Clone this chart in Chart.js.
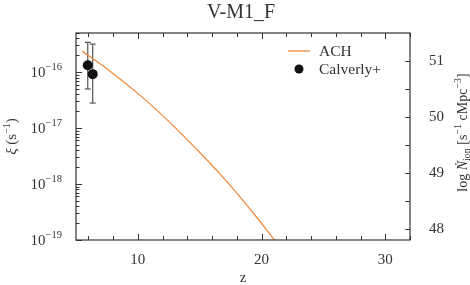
<!DOCTYPE html>
<html lang="en">
<head>
<meta charset="UTF-8">
<title>V-M1_F</title>
<style>
  html, body { margin: 0; padding: 0; background: #fff; }
  #wrap { width: 470px; height: 285px; }
</style>
</head>
<body>
<div id="wrap"><canvas id="chart" width="470" height="285"></canvas></div>
<script src="https://cdn.jsdelivr.net/npm/chart.js"></script>
<script>
// ACH model curve
const achZ  = [5.5, 7.7, 10.4, 12.6, 15.2, 16.6, 18.0, 19.3, 21.05];
const achXi = [2.37e-16, 1.06e-16, 3.5e-17, 1.25e-17, 3.3e-18, 1.55e-18, 6.9e-19, 3.1e-19, 1.0e-19];

// Calverly+ points with error bars
const calZ  = [5.95, 6.35];
const calXi = [1.33e-16, 9.2e-17];
const calHi = [3.4e-16, 3.16e-16];
const calLo = [5.0e-17, 2.8e-17];

// axes
const xLabelTicks = [10, 20, 30];
const xMinorTicks = [6, 8, 10, 12, 14, 16, 18, 20, 22, 24, 26, 28, 30, 32];
const yDecades = [-19, -18, -17, -16];
const y2LabelTicks = [48, 49, 50, 51];
const y2MinorTicks = [48, 48.5, 49, 49.5, 50, 50.5, 51];

const FONT = '"Liberation Serif", "DejaVu Serif", serif';
const INK = '#333';
const ORANGE = '#f28b3f';

function setFont(ctx, size, style) {
    ctx.font = (style || '') + ' ' + size + 'px ' + FONT;
}

// parts: [text, size, dy, style]
function richText(ctx, parts, x, y, align) {
    let w = 0;
    parts.forEach(p => { setFont(ctx, p[1], p[3]); w += ctx.measureText(p[0]).width; });
    let cx = align === 'right' ? x - w : align === 'center' ? x - w / 2 : x;
    ctx.textAlign = 'left';
    ctx.textBaseline = 'alphabetic';
    parts.forEach(p => {
        setFont(ctx, p[1], p[3]);
        ctx.fillText(p[0], cx, y + (p[2] || 0));
        cx += ctx.measureText(p[0]).width;
    });
}

function tick(ctx, x1, y1, x2, y2) {
    ctx.beginPath();
    ctx.moveTo(x1, y1);
    ctx.lineTo(x2, y2);
    ctx.stroke();
}

const errorBars = {
    id: 'errorBars',
    beforeDatasetsDraw(chart) {
        const ctx = chart.ctx, x = chart.scales.x, y = chart.scales.y;
        ctx.save();
        ctx.strokeStyle = '#555';
        ctx.lineWidth = 1.2;
        calZ.forEach((z, i) => {
            const px = x.getPixelForValue(z);
            const top = y.getPixelForValue(calHi[i]);
            const bot = y.getPixelForValue(calLo[i]);
            tick(ctx, px, top, px, bot);
            tick(ctx, px - 3, top, px + 3, top);
            tick(ctx, px - 3, bot, px + 3, bot);
        });
        ctx.restore();
    }
};

const decorations = {
    id: 'decorations',
    afterDraw(chart) {
        const ctx = chart.ctx, a = chart.chartArea;
        const x = chart.scales.x, y = chart.scales.y, y2 = chart.scales.y2;
        ctx.save();
        ctx.fillStyle = INK;

        // frame
        ctx.strokeStyle = INK;
        ctx.lineWidth = 1.2;
        ctx.strokeRect(a.left, a.top, a.right - a.left, a.bottom - a.top);

        // x ticks, bottom and top
        ctx.lineWidth = 1;
        xMinorTicks.forEach(v => {
            const px = Math.round(x.getPixelForValue(v)) + 0.5;
            const len = xLabelTicks.includes(v) ? 6 : 4;
            tick(ctx, px, a.bottom, px, a.bottom - len);
            tick(ctx, px, a.top, px, a.top + len);
        });

        // left log ticks + labels
        yDecades.forEach(d => {
            for (let m = 1; m <= 9; m++) {
                const v = m * Math.pow(10, d);
                if (v > y.max) break;
                const py = Math.round(y.getPixelForValue(v)) + 0.5;
                tick(ctx, a.left, py, a.left + (m === 1 ? 6 : 3.5), py);
            }
            const py = y.getPixelForValue(Math.pow(10, d));
            richText(ctx, [['10', 15, 0], ['\u2212' + (-d), 10.5, -7]], a.left - 14, py + 5, 'right');
        });

        // right ticks
        y2MinorTicks.forEach(v => {
            const py = Math.round(y2.getPixelForValue(v)) + 0.5;
            tick(ctx, a.right, py, a.right - 4.5, py);
        });

        // title
        setFont(ctx, 20);
        ctx.textAlign = 'center';
        ctx.textBaseline = 'alphabetic';
        ctx.fillText('V-M1_F', 241, 18);

        // x title
        setFont(ctx, 15);
        ctx.fillText('z', (a.left + a.right) / 2, 282);

        // left title
        ctx.save();
        ctx.translate(16, (a.top + a.bottom) / 2);
        ctx.rotate(-Math.PI / 2);
        richText(ctx, [['\u03BE', 15, 0, 'italic'], [' (s', 15, 0], ['\u22121', 10, -6], [')', 15, 0]], 0, 0, 'center');
        ctx.restore();

        // right title
        ctx.save();
        ctx.translate(467, (a.top + a.bottom) / 2 - 4);
        ctx.rotate(-Math.PI / 2);
        richText(ctx, [['log ', 14, 0], ['\u1E44', 14, 0, 'italic'], ['ion', 10, 3], [' [s', 14, 0], ['\u22121', 10, -6],
            [' cMpc', 14, 0], ['\u22123', 10, -6], [']', 14, 0]], 0, 0, 'center');
        ctx.restore();

        // legend
        ctx.strokeStyle = ORANGE;
        ctx.lineWidth = 1.3;
        tick(ctx, 288, 51, 310, 51);
        ctx.beginPath();
        ctx.arc(299, 69, 4.5, 0, Math.PI * 2);
        ctx.fillStyle = '#111';
        ctx.fill();
        ctx.fillStyle = INK;
        setFont(ctx, 15.5);
        ctx.textAlign = 'left';
        ctx.textBaseline = 'middle';
        ctx.fillText('ACH', 319, 52);
        ctx.fillText('Calverly+', 319, 70);

        ctx.restore();
    }
};

new Chart(document.getElementById('chart'), {
    type: 'line',
    data: {
        datasets: [{
            label: 'ACH',
            data: achZ.map((z, i) => ({ x: z, y: achXi[i] })),
            borderColor: ORANGE,
            borderWidth: 1.3,
            pointRadius: 0,
            cubicInterpolationMode: 'monotone',
            fill: false
        }, {
            label: 'Calverly+',
            data: calZ.map((z, i) => ({ x: z, y: calXi[i] })),
            showLine: false,
            pointRadius: 5,
            pointBackgroundColor: '#111',
            pointBorderColor: '#111',
            pointBorderWidth: 0
        }]
    },
    options: {
        responsive: false,
        animation: false,
        devicePixelRatio: 1,
        layout: { padding: { top: 33, left: 0, right: 0, bottom: 0 } },
        plugins: { legend: { display: false }, tooltip: { enabled: false }, title: { display: false } },
        scales: {
            x: {
                type: 'linear',
                min: 5,
                max: 32,
                grid: { display: false },
                border: { display: false },
                afterBuildTicks: s => { s.ticks = xLabelTicks.map(v => ({ value: v })); },
                afterFit: s => { s.height = 45; },
                ticks: { color: INK, padding: 3, font: { family: FONT, size: 15 } }
            },
            y: {
                type: 'logarithmic',
                position: 'left',
                min: 1e-19,
                max: 5e-16,
                grid: { display: false },
                border: { display: false },
                ticks: { display: false },
                afterFit: s => { s.width = 76; }
            },
            y2: {
                type: 'linear',
                position: 'right',
                min: 47.8,
                max: 51.5,
                grid: { display: false },
                border: { display: false },
                afterBuildTicks: s => { s.ticks = y2LabelTicks.map(v => ({ value: v })); },
                afterFit: s => { s.width = 60; },
                ticks: { color: INK, padding: 11, font: { family: FONT, size: 15 } }
            }
        }
    },
    plugins: [errorBars, decorations]
});
</script>
</body>
</html>
